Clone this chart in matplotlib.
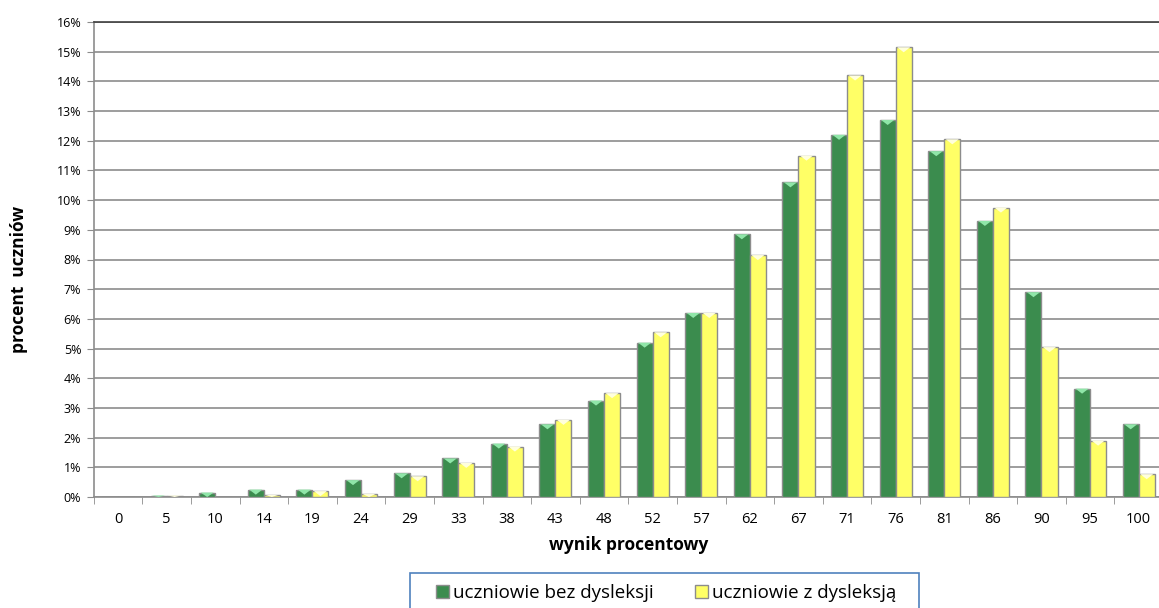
import matplotlib
matplotlib.use("Agg")
import matplotlib.pyplot as plt
import numpy as np
from matplotlib.patches import Polygon, Rectangle

categories = ["0", "5", "10", "14", "19", "24", "29", "33", "38", "43", "48",
              "52", "57", "62", "67", "71", "76", "81", "86", "90", "95", "100"]
bez_dysleksji = [0.0, 0.05, 0.15, 0.25, 0.25, 0.57, 0.8, 1.3, 1.8, 2.45, 3.25,
                 5.2, 6.2, 8.85, 10.6, 12.2, 12.7, 11.65, 9.3, 6.9, 3.65, 2.45]
z_dysleksja = [0.0, 0.05, 0.0, 0.07, 0.2, 0.1, 0.7, 1.15, 1.7, 2.6, 3.5,
               5.55, 6.2, 8.15, 11.5, 14.2, 15.15, 12.05, 9.75, 5.05, 1.9, 0.77]
y_ticks = list(range(0, 17))

plt.rcParams['font.family'] = ['Open Sans', 'DejaVu Sans']

W, H = 1159, 608
fig = plt.figure(figsize=(W / 100, H / 100), dpi=100)
ax = fig.add_axes([93.7 / W, 1 - 497 / H, (1163 - 93.7) / W, (497 - 22) / H])

x = np.arange(len(categories))
bw = 0.33
green, yellow = "#3b8c4e", "#ffff66"
ax.bar(x - bw / 2, bez_dysleksji, bw, color=green, edgecolor="#8c8c8c", linewidth=1.0, zorder=3, label="uczniowie bez dysleksji")
ax.bar(x + bw / 2, z_dysleksja, bw, color=yellow, edgecolor="#8c8c8c", linewidth=1.0, zorder=3, label="uczniowie z dysleksją")

# bevel triangles on bar tops
for xs, vals, c in ((x - bw / 2, bez_dysleksji, "#8fe6a8"), (x + bw / 2, z_dysleksja, "#ffffdd")):
    for xc, v in zip(xs, vals):
        if v <= 0:
            continue
        d = min(0.17, v)
        tri = Polygon([[xc - bw / 2 + 0.03, v], [xc + bw / 2 - 0.03, v], [xc, v - d]],
                      closed=True, facecolor=c, edgecolor="none", zorder=4)
        ax.add_patch(tri)

ax.set_xlim(-0.5, len(categories) - 0.5)
ax.set_ylim(0, 16)
ax.set_yticks(y_ticks)
ax.set_yticklabels([f"{t}%" for t in y_ticks], fontsize=9)
ax.set_xticks(x)
ax.set_xticklabels(categories, fontsize=10.5)
ax.set_xticks(np.arange(-0.5, len(categories), 1), minor=True)
ax.tick_params(axis="x", which="major", length=0, pad=11)
ax.tick_params(axis="x", which="minor", length=5, color="#8c8c8c", direction="out")
ax.tick_params(axis="y", length=5, color="#8c8c8c", direction="out", pad=4)

ax.grid(axis="y", color="#8c8c8c", linewidth=1.2, zorder=0)
ax.set_axisbelow(True)
ax.spines["right"].set_visible(False)
ax.spines["top"].set_color("#404040")
ax.spines["top"].set_linewidth(1.2)
ax.spines["left"].set_color("#8c8c8c")
ax.spines["bottom"].set_color("#8c8c8c")
ax.spines["left"].set_linewidth(1.2)
ax.spines["bottom"].set_linewidth(1.2)

fig.text(19 / W, 1 - 279 / H, "procent  uczniów", rotation=90, ha="center", va="center",
         fontsize=12.5, fontweight="bold")
fig.text(629 / W, 1 - 545 / H, "wynik procentowy", ha="center", va="center",
         fontsize=12.5, fontweight="bold")

# legend frame drawn manually
fig.patches.append(Rectangle((410 / W, 1 - 620 / H), 509 / W, 47 / H,
                             transform=fig.transFigure, facecolor="white",
                             edgecolor="#4f81bd", linewidth=1.2, zorder=1))
leg = fig.legend(loc="center", bbox_to_anchor=(666 / W, 1 - 593 / H), ncol=2,
                 fontsize=13.5, frameon=False, handlelength=0.7,
                 handleheight=0.7, handletextpad=0.2, columnspacing=2.2)

fig.savefig("out.png", dpi=100)
